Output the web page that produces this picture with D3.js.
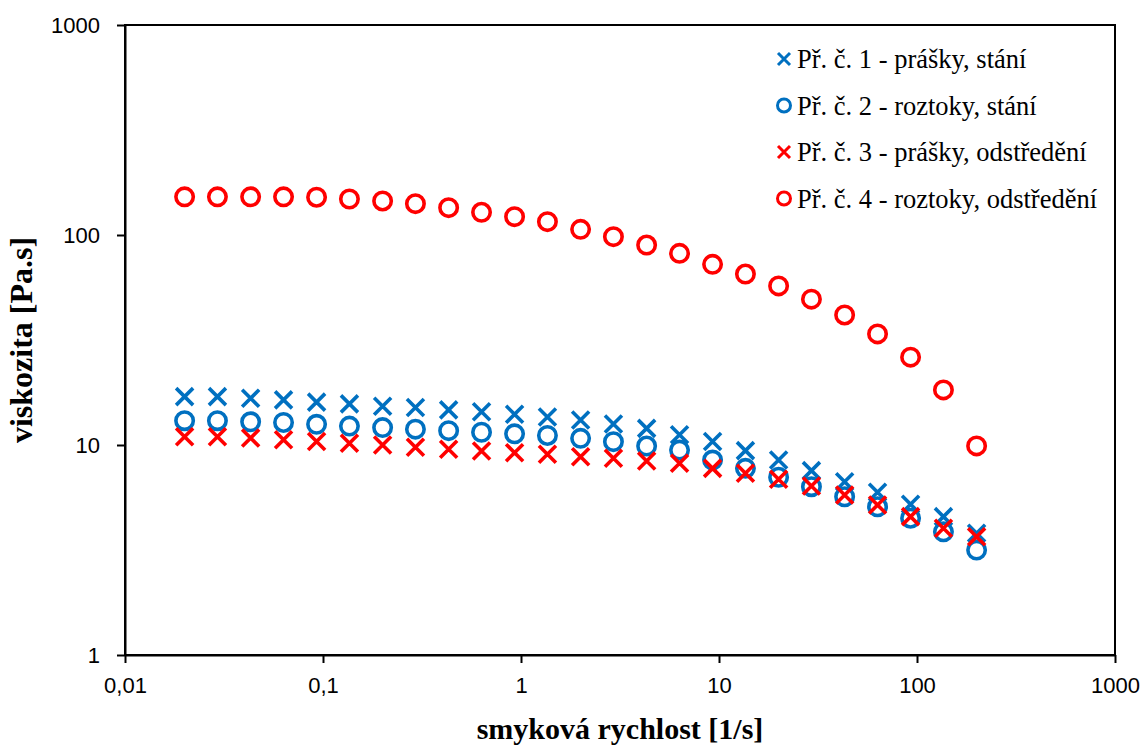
<!DOCTYPE html>
<html>
<head>
<meta charset="utf-8">
<script src="https://cdn.jsdelivr.net/npm/d3@7"></script>
<style>
  body { margin: 0; background: #fff; }
  .tick text { font-family: "Liberation Sans", Arial, sans-serif; font-size: 22px; fill: #000; }
  .axis path, .axis line { stroke: #000; stroke-width: 2px; }
  .title { font-family: "Liberation Serif", "Times New Roman", serif; font-weight: bold; }
  .legend text { font-family: "Liberation Serif", "Times New Roman", serif; font-size: 26.5px; }
</style>
</head>
<body>
<div id="chart"></div>
<script>
// smyková rychlost [1/s]
var shearRate = [0.02, 0.0293, 0.0431, 0.0632, 0.0928, 0.136, 0.2, 0.293, 0.431, 0.632, 0.928, 1.36,
  2, 2.93, 4.31, 6.32, 9.28, 13.6, 20, 29.3, 43.1, 63.2, 92.8, 136, 200];

// viskozita [Pa.s]
var vzorek1 = [17.0, 17.0, 16.7, 16.4, 16.0, 15.7, 15.3, 15.1, 14.7, 14.4, 14.0, 13.6,
  13.15, 12.6, 12.0, 11.2, 10.4, 9.4, 8.48, 7.55, 6.69, 5.95, 5.22, 4.56, 3.80];
var vzorek2 = [13.05, 13.05, 12.9, 12.8, 12.55, 12.3, 12.1, 11.9, 11.7, 11.5, 11.3, 11.1,
  10.76, 10.37, 9.89, 9.46, 8.48, 7.74, 7.02, 6.33, 5.67, 5.08, 4.48, 3.86, 3.16];
var vzorek3 = [10.95, 10.95, 10.8, 10.6, 10.4, 10.2, 10.0, 9.75, 9.54, 9.36, 9.19, 9.03,
  8.8, 8.64, 8.4, 8.19, 7.74, 7.33, 6.87, 6.38, 5.78, 5.18, 4.56, 4.01, 3.66];
var vzorek4 = [152, 152, 152, 152, 151.3, 148.4, 145.2, 141, 134.9, 128.3, 122.3, 115.7,
  106.4, 98.2, 89.6, 81.8, 72.5, 65.2, 57.2, 49.5, 41.6, 33.8, 26.2, 18.3, 9.9];

var seriesNames = ["Př. č. 1 - prášky, stání", "Př. č. 2 - roztoky, stání",
  "Př. č. 3 - prášky, odstředění", "Př. č. 4 - roztoky, odstředění"];

var xTicks = [0.01, 0.1, 1, 10, 100, 1000];
var yTicks = [1, 10, 100, 1000];

var series = [
  {name: seriesNames[0], values: vzorek1, shape: "x", color: "#0070C0"},
  {name: seriesNames[1], values: vzorek2, shape: "o", color: "#0070C0"},
  {name: seriesNames[2], values: vzorek3, shape: "x", color: "#FF0000"},
  {name: seriesNames[3], values: vzorek4, shape: "o", color: "#FF0000"}
];

var W = 1146, H = 749;
var margin = {top: 25, right: 31, bottom: 94, left: 125},
  width = W - margin.left - margin.right,
  height = H - margin.top - margin.bottom;

var x = d3.scaleLog().domain([0.01, 1000]).range([0, width]);
var y = d3.scaleLog().domain([1, 1000]).range([height, 0]);

var svg = d3.select("#chart").append("svg")
  .attr("width", W)
  .attr("height", H);

var g = svg.append("g")
  .attr("transform", "translate(" + margin.left + "," + margin.top + ")");

// plot border
g.append("rect")
  .attr("width", width)
  .attr("height", height)
  .attr("fill", "none")
  .attr("stroke", "#000")
  .attr("stroke-width", 2);

g.append("g")
  .attr("class", "axis")
  .attr("transform", "translate(0," + height + ")")
  .call(d3.axisBottom(x).tickValues(xTicks).tickSize(8).tickSizeOuter(0).tickPadding(14)
    .tickFormat(function(d) { return String(d).replace(".", ","); }));

g.append("g")
  .attr("class", "axis")
  .call(d3.axisLeft(y).tickValues(yTicks).tickSize(8).tickSizeOuter(0).tickPadding(17)
    .tickFormat(d3.format("d")));

function drawMarker(sel, shape, color, r, sw) {
  if (shape === "o") {
    sel.append("circle")
      .attr("r", r)
      .attr("fill", "none")
      .attr("stroke", color)
      .attr("stroke-width", sw);
  } else {
    sel.append("path")
      .attr("d", "M" + (-r) + "," + (-r) + "L" + r + "," + r + "M" + (-r) + "," + r + "L" + r + "," + (-r))
      .attr("stroke", color)
      .attr("stroke-width", sw)
      .attr("fill", "none");
  }
}

series.forEach(function(s) {
  var pts = g.append("g").selectAll("g")
    .data(s.values)
    .enter().append("g")
    .attr("transform", function(d, i) { return "translate(" + x(shearRate[i]) + "," + y(d) + ")"; });
  drawMarker(pts, s.shape, s.color, s.shape === "o" ? 8.7 : 8.5, 3.6);
});

// legend
var legend = svg.append("g").attr("class", "legend")
  .attr("transform", "translate(784,59)");

var item = legend.selectAll("g")
  .data(series)
  .enter().append("g")
  .attr("transform", function(d, i) { return "translate(0," + (i * 46.5) + ")"; });

item.each(function(d) {
  drawMarker(d3.select(this), d.shape, d.color, d.shape === "o" ? 6.5 : 6, 3);
});

item.append("text")
  .attr("x", 13)
  .attr("y", 9)
  .text(function(d) { return d.name; });

// axis titles
svg.append("text")
  .attr("class", "title")
  .attr("x", margin.left + width / 2)
  .attr("y", 739)
  .attr("text-anchor", "middle")
  .style("font-size", "30px")
  .text("smyková rychlost [1/s]");

svg.append("text")
  .attr("class", "title")
  .attr("transform", "translate(32," + (margin.top + height / 2) + ") rotate(-90)")
  .attr("text-anchor", "middle")
  .style("font-size", "32px")
  .text("viskozita [Pa.s]");
</script>
</body>
</html>
